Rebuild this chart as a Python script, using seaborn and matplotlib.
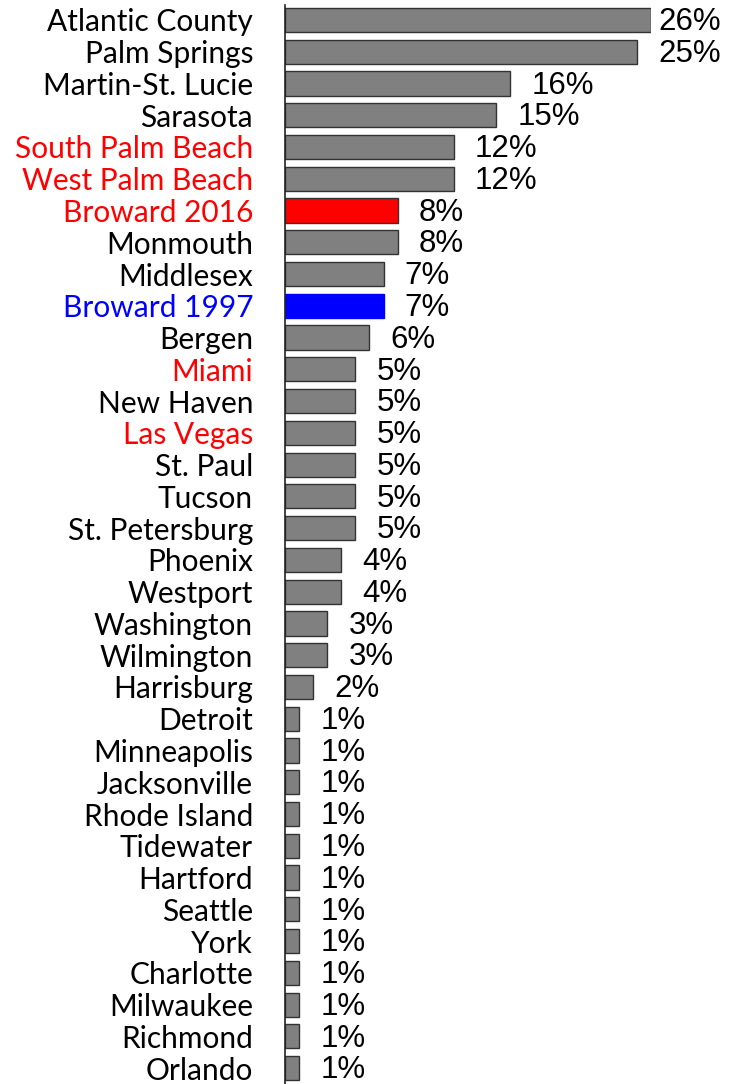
import numpy as np
import pandas as pd
import seaborn as sns
import matplotlib.pyplot as plt

names = [
  'Atlantic County', 'Palm Springs', 'Martin-St. Lucie', 'Sarasota',
  'South Palm Beach', 'West Palm Beach', 'Broward 2016', 'Monmouth',
  'Middlesex', 'Broward 1997', 'Bergen', 'Miami', 'New Haven', 'Las Vegas',
  'St. Paul', 'Tucson', 'St. Petersburg', 'Phoenix', 'Westport',
  'Washington', 'Wilmington', 'Harrisburg', 'Detroit', 'Minneapolis',
  'Jacksonville', 'Rhode Island', 'Tidewater', 'Hartford', 'Seattle',
  'York', 'Charlotte', 'Milwaukee', 'Richmond', 'Orlando'
]
values = [26, 25, 16, 15, 12, 12, 8, 8, 7, 7, 6, 5, 5, 5, 5, 5, 5, 4, 4,
          3, 3, 2, 1, 1, 1, 1, 1, 1, 1, 1, 1, 1, 1, 1]

red_labels = ['South Palm Beach', 'West Palm Beach', 'Broward 2016', 'Miami', 'Las Vegas']
blue_labels = ['Broward 1997']
bar_colors = {'Broward 2016': '#ff0000', 'Broward 1997': '#0000ff'}

df = pd.DataFrame({'name': names, 'value': values})

sns.set_style('white')
plt.rcParams['font.family'] = ['Lato', 'DejaVu Sans']
plt.rcParams['text.color'] = 'black'

fig = plt.figure(figsize=(7.38, 10.84), dpi=100)
ax = fig.add_axes([285 / 738, 0, (651 - 285) / 738, 1 - 5 / 1084])

palette = {n: bar_colors.get(n, '#808080') for n in names}
sns.barplot(data=df, x='value', y='name', hue='name', palette=palette,
            legend=False, width=0.76, edgecolor='#333333', linewidth=1,
            saturation=1, ax=ax)

# the blue bar has no dark outline in the original
for p, n in zip(ax.patches, names):
  if n == 'Broward 1997':
    p.set_edgecolor('#0000ff')

ax.set_xlim(0, 26)
ax.set_ylim(len(names) - 0.5, -0.47)
ax.set_xlabel('')
ax.set_ylabel('')
ax.set_xticks([])
ax.tick_params(axis='y', length=0, pad=23, labelsize=21.5)

for lbl in ax.get_yticklabels():
  t = lbl.get_text()
  if t in red_labels:
    lbl.set_color('#ff0000')
  elif t in blue_labels:
    lbl.set_color('#0000ff')
  else:
    lbl.set_color('black')

for i, v in enumerate(values):
  ax.text(min(v + 1.5, 26.5), i + 0.07, f'{v}%', va='center', ha='left',
          fontsize=22.5, family='Liberation Sans', color='black', clip_on=False)

for s in ['top', 'right', 'bottom']:
  ax.spines[s].set_visible(False)
ax.spines['left'].set_color('#222222')
ax.spines['left'].set_linewidth(1.2)

fig.savefig('out.png', dpi=100)
